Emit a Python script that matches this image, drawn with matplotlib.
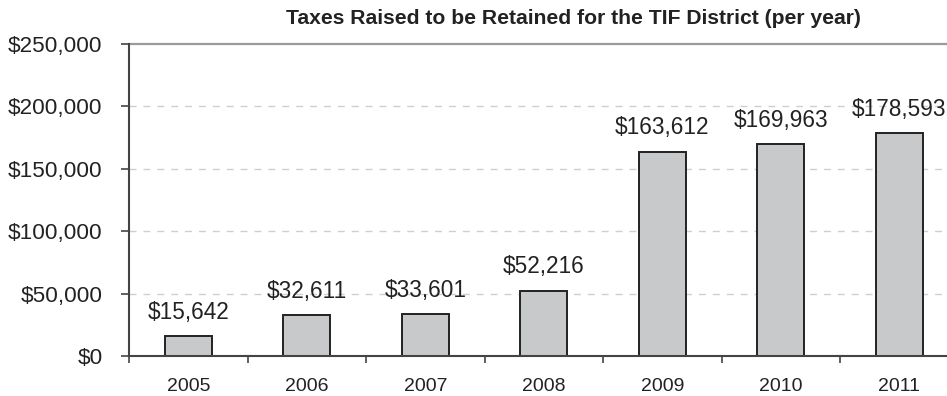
import matplotlib
matplotlib.use("Agg")
import matplotlib.pyplot as plt
from matplotlib.ticker import FixedLocator, FuncFormatter
import numpy as np

plt.rcParams['font.family'] = ['Liberation Sans', 'DejaVu Sans']

years = ['2005', '2006', '2007', '2008', '2009', '2010', '2011']
taxes = [15642, 32611, 33601, 52216, 163612, 169963, 178593]
y_ticks = [0, 50000, 100000, 150000, 200000, 250000]

text_col = '#222222'
axis_col = '#444444'

fig = plt.figure(figsize=(9.47, 3.96), dpi=100)
ax = fig.add_axes([129 / 947, 40 / 396, (958.5 - 129) / 947, 312 / 396])

x = np.arange(len(years))
ax.bar(x, taxes, width=0.40, color='#c8c9cb', edgecolor='#222222', linewidth=1.4, zorder=3)

for xi, v in zip(x, taxes):
    ax.annotate('${:,}'.format(v), (xi, v), xytext=(0, 12.5), textcoords='offset points',
                ha='center', va='baseline', fontsize=16.3, color=text_col)

ax.set_xlim(-0.5, len(years) - 0.5)
ax.set_ylim(0, 250000)

# y axis: dollar labels, dashed gridlines, solid line at the top
ax.set_yticks(y_ticks)
ax.yaxis.set_major_formatter(FuncFormatter(lambda v, p: '${:,.0f}'.format(v)))
ax.tick_params(axis='y', direction='out', length=6, width=1.2, color=axis_col,
               pad=13, labelsize=16.2, labelcolor=text_col)
for t in y_ticks[1:-1]:
    ax.axhline(t, color='#cfcfcf', linewidth=1.0, linestyle=(0, (5, 5)), zorder=1)
ax.axhline(250000, color='#9a9a9a', linewidth=1.6, zorder=2, clip_on=False)

# x axis: year labels centred, tick marks at category boundaries
ax.xaxis.set_major_locator(FixedLocator(x))
ax.set_xticklabels(years)
ax.xaxis.set_minor_locator(FixedLocator(np.arange(len(years) + 1) - 0.5))
ax.tick_params(axis='x', which='major', length=0, pad=16, labelsize=14, labelcolor=text_col)
ax.tick_params(axis='x', which='minor', direction='out', length=5, width=1.2, color=axis_col)

for side in ['top', 'right']:
    ax.spines[side].set_visible(False)
for side in ['left', 'bottom']:
    ax.spines[side].set_color(axis_col)
    ax.spines[side].set_linewidth(1.5)
    ax.spines[side].set_zorder(4)

fig.text(573 / 947, 1 - 18 / 396, 'Taxes Raised to be Retained for the TIF District (per year)',
         ha='center', va='center', fontsize=15.2, fontweight='bold', color=text_col)

fig.savefig('out.png', dpi=100)
